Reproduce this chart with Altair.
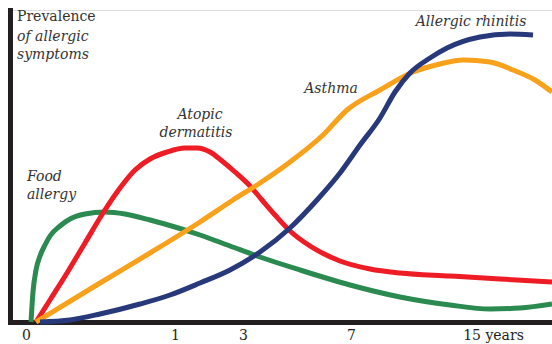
import altair as alt
import pandas as pd

# Curves: x = horizontal age position (chart units), y = prevalence (chart units)
food_x = [31, 33, 36, 40, 45, 50, 60, 70, 85, 105, 125, 150, 175, 200, 230, 260, 300, 350, 400, 450, 490, 520, 552]
food_y = [0, 30, 52, 66, 77, 86, 96, 103, 108, 110, 108, 102, 95, 87, 76, 65, 52, 37, 25, 17, 13, 14, 18]

derm_x = [36, 50, 67, 85, 103, 120, 135, 150, 167, 185, 197, 210, 222, 235, 250, 262, 275, 290, 310, 340, 370, 400, 450, 500, 552]
derm_y = [0, 22, 49, 79, 109, 134, 152, 163, 170, 174, 174, 170, 161, 150, 136, 122, 107, 91, 76, 61, 53, 49, 46, 43, 40]

asthma_x = [36, 100, 150, 200, 233, 260, 290, 323, 347, 380, 413, 440, 463, 490, 513, 535, 552]
asthma_y = [0, 39, 69, 100, 122, 139, 160, 187, 212, 232, 250, 258, 262, 260, 252, 242, 230]

rhin_x = [40, 70, 100, 140, 170, 200, 230, 260, 290, 317, 340, 360, 380, 395, 410, 430, 447, 480, 510, 533]
rhin_y = [0, 2, 8, 18, 27, 39, 52, 70, 94, 122, 149, 177, 204, 230, 249, 264, 274, 285, 288, 287]

series_names = ["Food allergy", "Atopic dermatitis", "Asthma", "Allergic rhinitis"]
series_colors = ["#2a8a50", "#ee1c25", "#f9a11b", "#27397a"]

tick_pos = [26, 175, 243, 351, 493]
tick_text = ["0", "1", "3", "7", "15 years"]

label_text = ["Prevalence", "of allergic", "symptoms", "Food", "allergy", "Atopic", "dermatitis", "Asthma", "Allergic rhinitis"]
label_x = [17, 17, 17, 27, 27, 200, 196, 331, 471]
label_y = [305, 285, 267, 145, 127, 207, 189, 233, 300]
label_style = ["normal", "italic", "italic", "italic", "italic", "italic", "italic", "italic", "italic"]
label_align = ["left", "left", "left", "left", "left", "center", "center", "center", "center"]

FONT = "DejaVu Serif"

rows = []
for name, xs, ys in [
    (series_names[0], food_x, food_y),
    (series_names[1], derm_x, derm_y),
    (series_names[2], asthma_x, asthma_y),
    (series_names[3], rhin_x, rhin_y),
]:
    for i, (a, b) in enumerate(zip(xs, ys)):
        rows.append({"series": name, "x": a, "y": b, "o": i})
df = pd.DataFrame(rows)

labels = pd.DataFrame({"text": label_text, "x": label_x, "y": label_y,
                       "style": label_style, "align": label_align})

label_map = "{" + ",".join(f"'{p}':'{t}'" for p, t in zip(tick_pos, tick_text)) + "}"

xscale = alt.Scale(domain=[10, 552], nice=False, zero=False)
yscale = alt.Scale(domain=[0, 312], nice=False)

lines = alt.Chart(df).mark_line(strokeWidth=5, interpolate="monotone", strokeCap="butt").encode(
    x=alt.X("x:Q", scale=xscale,
            axis=alt.Axis(values=tick_pos, labelExpr=f"{label_map}[datum.value]", title=None,
                          grid=False, ticks=False, tickSize=0, labelPadding=6,
                          domainColor="#231f20", domainWidth=5, domainCap="square",
                          labelFont=FONT, labelFontSize=14, labelColor="#231f20",
                          labelFlush=False, labelOverlap=False)),
    y=alt.Y("y:Q", scale=yscale,
            axis=alt.Axis(title=None, grid=False, ticks=False, labels=False,
                          domainColor="#231f20", domainWidth=5, domainCap="square")),
    color=alt.Color("series:N", scale=alt.Scale(domain=series_names, range=series_colors), legend=None),
    order="o:Q",
    detail="series:N",
)

def text_layer(style, align):
    sub = labels[(labels["style"] == style) & (labels["align"] == align)]
    return alt.Chart(sub).mark_text(
        font=FONT, fontSize=14, fontStyle=style, align=align,
        baseline="middle", color="#333333"
    ).encode(x=alt.X("x:Q", scale=xscale), y=alt.Y("y:Q", scale=yscale), text="text:N")

texts = [text_layer(s, a) for s, a in [("normal", "left"), ("italic", "left"), ("italic", "center")]]

chart = alt.layer(lines, *texts).properties(
    width=542, height=312,
    autosize=alt.AutoSizeParams(type="none"),
    padding={"left": 10, "top": 10, "right": 0, "bottom": 22},
).configure_view(stroke=None).configure(background="white", font=FONT)

chart.save("out.html", embed_options={"renderer": "svg", "actions": False})
